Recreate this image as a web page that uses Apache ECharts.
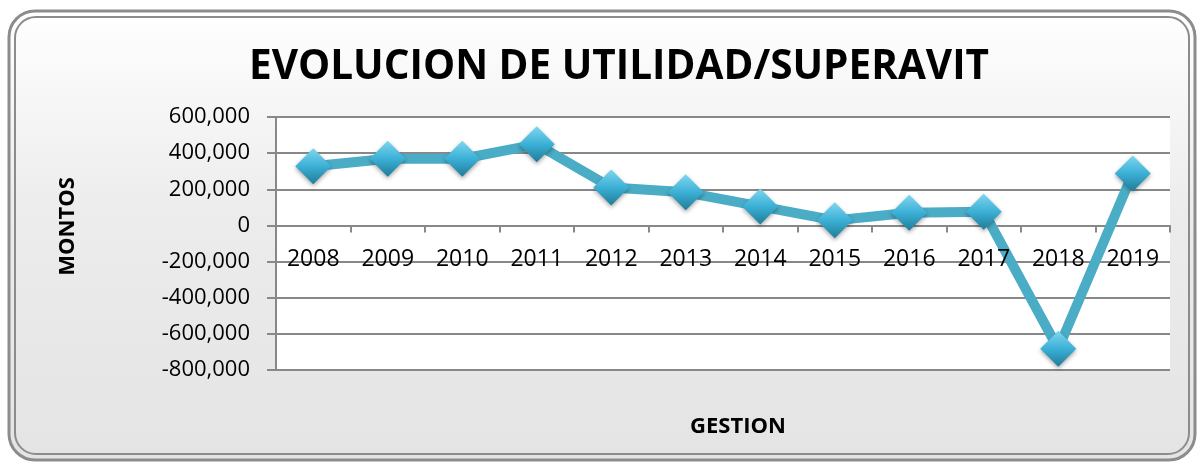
<!DOCTYPE html>
<html>
<head>
<meta charset="utf-8">
<script src="https://cdn.jsdelivr.net/npm/echarts@6/dist/echarts.min.js"></script>
<style>
  html, body { margin: 0; padding: 0; background: #fff; }
  #chart { width: 1200px; height: 462px; }
</style>
</head>
<body>
<div id="chart"></div>
<script>
var years = ['2008', '2009', '2010', '2011', '2012', '2013', '2014', '2015', '2016', '2017', '2018', '2019'];
var montos = [327000, 369000, 369000, 449000, 210000, 183000, 105000, 28000, 70000, 76000, -683000, 288000];
var yTicks = { min: -800000, max: 600000, interval: 200000 };

var myChart = echarts.init(document.getElementById('chart'));
var font = '"Open Sans", "Noto Sans", sans-serif';

var option = {
    animation: false,
    graphic: [
        {
            type: 'rect',
            z: -10,
            shape: { x: 9, y: 11, width: 1186, height: 449, r: 26 },
            style: {
                fill: new echarts.graphic.LinearGradient(0, 0, 0, 1, [
                    { offset: 0, color: '#ffffff' },
                    { offset: 0.45, color: '#ececec' },
                    { offset: 1, color: '#e4e4e4' }
                ]),
                stroke: '#8c8c8c',
                lineWidth: 3
            }
        },
        {
            type: 'rect',
            z: -9,
            shape: { x: 15, y: 17, width: 1174, height: 437, r: 21 },
            style: { fill: 'none', stroke: '#8c8c8c', lineWidth: 2 }
        }
    ],
    title: {
        text: 'EVOLUCION DE UTILIDAD/SUPERAVIT',
        left: 614,
        top: 42,
        textAlign: 'center',
        textStyle: { fontFamily: font, fontSize: 40.5, fontWeight: 'bold', color: '#000' }
    },
    grid: {
        left: 276,
        right: 30,
        top: 117,
        bottom: 92,
        show: true,
        backgroundColor: '#fff',
        borderWidth: 0,
        containLabel: false,
        outerBoundsMode: 'none'
    },
    xAxis: [{
        type: 'category',
        data: years,
        name: 'GESTION',
        nameLocation: 'middle',
        nameGap: 46,
        nameTextStyle: { fontFamily: font, fontSize: 22, fontWeight: 'bold', color: '#000', padding: [0, 0, 0, 30] },
        axisLine: { onZero: true, lineStyle: { color: '#888', width: 2 } },
        axisTick: { show: true, length: 7, lineStyle: { color: '#888', width: 2 } },
        axisLabel: { show: false },
        splitLine: { show: false }
    }, {
        // labels only, kept above the line like the original
        type: 'category',
        data: years,
        position: 'bottom',
        z: 10,
        axisLine: { show: false, onZero: false },
        axisTick: { show: false },
        axisLabel: { fontFamily: font, fontSize: 23, color: '#000', margin: -122 },
        splitLine: { show: false }
    }],
    yAxis: {
        type: 'value',
        min: yTicks.min,
        max: yTicks.max,
        interval: yTicks.interval,
        name: 'MONTOS',
        nameLocation: 'middle',
        nameGap: 197,
        nameRotate: 90,
        nameTextStyle: { fontFamily: font, fontSize: 22, fontWeight: 'bold', color: '#000', padding: [0, 0, 0, 34] },
        axisLine: { show: true, lineStyle: { color: '#888', width: 2 } },
        axisTick: { show: true, length: 9, lineStyle: { color: '#888', width: 2 } },
        axisLabel: {
            fontFamily: font, fontSize: 22, color: '#000', margin: 26,
            formatter: function (v) { return v.toLocaleString('en-US'); }
        },
        splitLine: { show: true, lineStyle: { color: '#888', width: 2 } }
    },
    series: [{
        type: 'line',
        data: montos,
        xAxisIndex: 0,
        symbol: 'diamond',
        symbolSize: 36,
        lineStyle: { color: '#4bacc6', width: 10 },
        itemStyle: {
            color: new echarts.graphic.LinearGradient(0, 0, 0, 1, [
                { offset: 0, color: '#7fd6f0' },
                { offset: 0.5, color: '#3bb0d6' },
                { offset: 1, color: '#1f7c98' }
            ]),
            borderWidth: 0,
            shadowColor: 'rgba(0,0,0,0.35)',
            shadowBlur: 4,
            shadowOffsetY: 2
        }
    }]
};
myChart.setOption(option);
</script>
</body>
</html>
